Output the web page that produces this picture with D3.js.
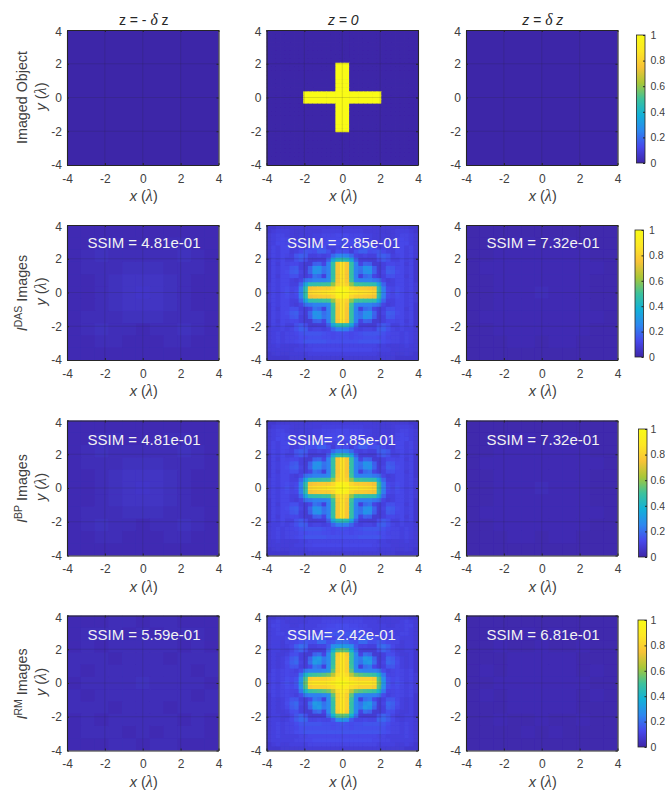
<!DOCTYPE html>
<html>
<head>
<meta charset="utf-8">
<script src="https://cdn.jsdelivr.net/npm/d3@7"></script>
<style>
  html, body { margin: 0; padding: 0; background: #fff; overflow: hidden; }
  svg { display: block; font-family: "Liberation Sans", Arial, sans-serif; }
  .tick text { fill: #404040; font-size: 12px; }
  .colorbar .tick text { font-size: 10.5px; }
  .domain, .tick line { stroke: #262626; }
  .greek { font-family: "Liberation Serif", serif; font-style: italic; font-size: 1.12em; }
</style>
</head>
<body>
<div id="chart"></div>
<script>
// values, in percent of the colour range
const ticks = [-4, -2, 0, 2, 4];
const colorbarTicks = [0, 0.2, 0.4, 0.6, 0.8, 1];
const parula = ['#3e26a8', '#4748eb', '#2d87f0', '#12b1d8', '#3dc29b', '#a8c738', '#f8c337', '#fde725', '#f9fb15'];

const objectRows = [
  '000000000000000000000000000000000',
  '000000000000000000000000000000000',
  '000000000000000000000000000000000',
  '000000000000000000000000000000000',
  '000000000000000000000000000000000',
  '000000000000000000000000000000000',
  '000000000000000000000000000000000',
  '000000000000000000000000000000000',
  '000000000000000111000000000000000',
  '000000000000000111000000000000000',
  '000000000000000111000000000000000',
  '000000000000000111000000000000000',
  '000000000000000111000000000000000',
  '000000000000000111000000000000000',
  '000000000000000111000000000000000',
  '000000001111111111111111100000000',
  '000000001111111111111111100000000',
  '000000001111111111111111100000000',
  '000000000000000111000000000000000',
  '000000000000000111000000000000000',
  '000000000000000111000000000000000',
  '000000000000000111000000000000000',
  '000000000000000111000000000000000',
  '000000000000000111000000000000000',
  '000000000000000111000000000000000',
  '000000000000000000000000000000000',
  '000000000000000000000000000000000',
  '000000000000000000000000000000000',
  '000000000000000000000000000000000',
  '000000000000000000000000000000000',
  '000000000000000000000000000000000',
  '000000000000000000000000000000000',
  '000000000000000000000000000000000'
];

const dasFocus = [
  [7,7,8,8,8,8,8,8,8,8,9,9,9,9,9,9,9,9,9,9,9,9,9,8,8,8,8,8,8,8,8,7,7],
  [7,9,10,10,10,9,8,8,9,9,9,9,10,10,10,10,10,10,10,10,10,9,9,9,9,8,8,9,10,10,10,9,7],
  [8,10,11,11,10,9,8,9,9,9,10,10,11,11,11,12,12,12,11,11,11,10,10,9,9,9,8,9,10,11,11,10,8],
  [8,10,11,12,11,9,9,9,9,9,10,10,11,12,12,12,12,12,12,12,11,10,10,9,9,9,9,9,11,12,11,10,8],
  [8,10,12,12,11,10,11,10,9,9,10,11,12,13,13,13,13,13,13,13,12,11,10,9,9,10,11,10,11,12,12,10,8],
  [8,11,10,12,12,9,9,10,10,12,15,16,14,10,10,11,11,11,10,10,14,16,15,12,10,10,9,9,12,12,10,11,8],
  [8,11,10,12,12,9,10,12,15,14,13,17,17,14,9,13,14,13,9,14,17,17,13,14,15,12,10,9,12,12,10,11,8],
  [8,11,10,12,11,10,15,17,16,10,10,11,10,11,19,24,25,24,19,11,10,11,10,10,16,17,15,10,11,12,10,11,8],
  [7,11,10,12,10,10,14,16,13,8,8,9,9,17,34,44,46,44,34,17,9,9,8,8,13,16,14,10,10,12,10,11,7],
  [7,11,9,12,11,12,12,10,8,8,17,18,11,24,48,76,86,76,48,24,11,18,17,8,8,10,12,12,11,12,9,11,7],
  [7,11,10,12,12,15,16,10,8,17,27,29,21,24,48,76,86,76,48,24,21,29,27,17,8,10,16,15,12,12,10,11,7],
  [7,11,10,12,13,16,17,11,9,18,29,27,20,24,48,76,86,76,48,24,20,27,29,18,9,11,17,16,13,12,10,11,7],
  [7,11,9,12,12,14,14,10,9,11,21,19,10,24,48,76,86,76,48,24,10,19,21,11,9,10,14,14,12,12,9,11,7],
  [7,11,10,12,12,10,9,11,20,22,24,24,24,26,50,77,86,77,50,26,24,24,24,22,20,11,9,10,12,12,10,11,7],
  [8,11,10,12,12,10,10,18,34,46,47,48,49,50,60,80,86,80,60,50,49,48,47,46,34,18,10,10,12,12,10,11,8],
  [8,11,10,12,13,11,12,23,46,74,76,77,78,78,82,92,96,92,82,78,78,77,76,74,46,23,12,11,13,12,10,11,8],
  [8,11,10,12,14,11,13,24,48,82,84,85,86,88,90,96,100,96,90,88,86,85,84,82,48,24,13,11,14,12,10,11,8],
  [8,11,10,12,13,11,12,23,46,74,76,77,78,78,82,92,96,92,82,78,78,77,76,74,46,23,12,11,13,12,10,11,8],
  [8,11,10,12,12,10,10,18,34,46,47,48,49,50,60,80,86,80,60,50,49,48,47,46,34,18,10,10,12,12,10,11,8],
  [7,11,10,12,12,10,9,11,20,22,24,24,24,26,50,77,86,77,50,26,24,24,24,22,20,11,9,10,12,12,10,11,7],
  [7,11,9,12,12,14,14,10,9,11,21,19,10,24,48,76,86,76,48,24,10,19,21,11,9,10,14,14,12,12,9,11,7],
  [7,11,10,12,13,16,17,11,9,18,29,27,20,24,48,76,86,76,48,24,20,27,29,18,9,11,17,16,13,12,10,11,7],
  [7,11,10,12,12,15,16,10,8,17,27,29,21,24,48,76,86,76,48,24,21,29,27,17,8,10,16,15,12,12,10,11,7],
  [7,11,9,12,11,12,12,10,8,8,17,18,11,24,48,76,86,76,48,24,11,18,17,8,8,10,12,12,11,12,9,11,7],
  [7,11,10,12,10,10,14,16,13,8,8,9,9,17,34,44,46,44,34,17,9,9,8,8,13,16,14,10,10,12,10,11,7],
  [8,10,10,11,10,11,14,17,16,10,11,11,10,11,18,23,24,23,18,11,10,11,11,10,16,17,14,11,10,11,10,10,8],
  [8,10,11,10,11,11,12,14,15,15,15,15,14,13,12,13,14,13,12,13,14,15,15,15,15,14,12,11,11,10,11,10,8],
  [8,10,11,10,11,11,11,13,13,14,14,14,13,13,12,13,13,13,12,13,13,14,14,14,13,13,11,11,11,10,11,10,8],
  [8,10,11,10,11,11,12,13,15,15,15,15,15,14,14,14,14,14,14,14,15,15,15,15,15,13,12,11,11,10,11,10,8],
  [8,9,10,9,9,9,9,10,10,11,11,11,11,11,11,11,11,11,11,11,11,11,11,11,10,10,9,9,9,9,10,9,8],
  [8,9,9,9,9,9,10,10,11,11,12,12,12,12,12,12,12,12,12,12,12,12,12,11,11,10,10,9,9,9,9,9,8],
  [7,8,9,8,8,9,9,9,9,10,10,10,10,10,10,10,10,10,10,10,10,10,10,10,9,9,9,9,8,8,9,8,7],
  [7,7,7,7,7,8,8,8,8,8,8,8,8,8,8,8,8,8,8,8,8,8,8,8,8,8,8,8,7,7,7,7,7]
];

const rmFocus = [
  [7,7,8,8,9,9,9,9,9,9,9,9,10,10,10,10,10,10,10,10,10,9,9,9,9,9,9,9,9,8,8,7,7],
  [8,10,11,10,9,9,9,9,9,10,10,10,11,11,11,11,11,11,11,11,11,10,10,10,9,9,9,9,9,10,11,10,8],
  [8,11,11,10,10,9,9,10,10,10,10,11,11,12,12,13,13,13,12,12,11,11,10,10,10,10,9,9,10,10,11,11,8],
  [8,10,11,10,10,10,10,10,10,10,11,11,12,13,13,13,13,13,13,13,12,11,11,10,10,10,10,10,10,10,11,10,8],
  [8,10,11,11,10,11,12,12,10,10,11,12,13,15,15,15,15,15,15,15,13,12,11,10,10,12,12,11,10,11,11,10,8],
  [8,10,10,10,11,10,10,12,12,13,16,17,14,11,12,13,14,13,12,11,14,17,16,13,12,12,10,10,11,10,10,10,8],
  [8,10,10,9,11,11,12,14,16,14,14,19,19,14,15,19,20,19,15,14,19,19,14,14,16,14,12,11,11,9,10,10,8],
  [8,10,10,9,10,12,17,20,18,10,10,11,11,16,27,30,31,30,27,16,11,11,10,10,18,20,17,12,10,9,10,10,8],
  [7,10,10,9,9,11,15,18,14,8,8,8,9,20,38,52,55,52,38,20,9,8,8,8,14,18,15,11,9,9,10,10,7],
  [7,10,9,9,10,13,14,10,8,8,18,20,11,26,48,78,88,78,48,26,11,20,18,8,8,10,14,13,10,9,9,10,7],
  [7,10,9,10,12,16,18,10,8,18,29,31,22,26,48,80,88,80,48,26,22,31,29,18,8,10,18,16,12,10,9,10,7],
  [7,10,9,10,13,17,19,11,9,20,31,29,21,26,48,80,88,80,48,26,21,29,31,20,9,11,19,17,13,10,9,10,7],
  [7,10,9,10,12,15,15,10,9,12,22,20,10,26,50,80,88,80,50,26,10,20,22,12,9,10,15,15,12,10,9,10,7],
  [7,11,10,11,12,11,10,13,22,24,24,24,25,28,54,80,88,80,54,28,25,24,24,24,22,13,10,11,12,11,10,11,7],
  [8,11,10,11,12,11,11,22,40,48,50,51,53,56,66,84,90,84,66,56,53,51,50,48,40,22,11,11,12,11,10,11,8],
  [8,11,10,11,13,12,14,27,52,78,80,80,80,82,84,90,92,90,84,82,80,80,80,78,52,27,14,12,13,11,10,11,8],
  [8,11,10,12,14,12,15,30,55,86,88,88,88,90,92,96,100,96,92,90,88,88,88,86,55,30,15,12,14,12,10,11,8],
  [8,11,10,11,13,12,14,27,52,78,80,80,80,82,84,90,92,90,84,82,80,80,80,78,52,27,14,12,13,11,10,11,8],
  [8,11,10,11,12,11,11,22,40,48,50,51,53,56,66,84,90,84,66,56,53,51,50,48,40,22,11,11,12,11,10,11,8],
  [7,11,10,11,12,11,10,13,22,24,24,24,25,28,54,80,88,80,54,28,25,24,24,24,22,13,10,11,12,11,10,11,7],
  [7,10,9,10,12,15,15,10,9,12,22,20,10,26,50,80,88,80,50,26,10,20,22,12,9,10,15,15,12,10,9,10,7],
  [7,10,9,10,13,17,19,11,9,20,31,29,21,26,48,80,88,80,48,26,21,29,31,20,9,11,19,17,13,10,9,10,7],
  [7,10,9,10,12,16,18,10,8,18,29,31,22,26,48,80,88,80,48,26,22,31,29,18,8,10,18,16,12,10,9,10,7],
  [7,10,9,9,10,13,14,10,8,8,18,20,11,26,48,78,88,78,48,26,11,20,18,8,8,10,14,13,10,9,9,10,7],
  [7,10,10,9,9,11,15,18,14,8,8,8,9,20,38,52,55,52,38,20,9,8,8,8,14,18,15,11,9,9,10,10,7],
  [8,10,10,9,10,12,16,19,18,11,11,12,11,11,16,27,30,27,16,11,11,12,11,11,18,19,16,12,10,9,10,10,8],
  [8,10,11,10,11,11,13,15,15,15,15,15,14,14,13,14,15,14,13,14,14,15,15,15,15,15,13,11,11,10,11,10,8],
  [8,10,11,10,11,11,12,14,14,14,14,14,14,14,13,14,14,14,13,14,14,14,14,14,14,14,12,11,11,10,11,10,8],
  [8,10,11,10,11,11,13,14,15,15,15,15,15,15,15,15,15,15,15,15,15,15,15,15,15,14,13,11,11,10,11,10,8],
  [8,10,11,10,10,10,10,11,11,12,12,12,12,12,12,12,12,12,12,12,12,12,12,12,11,11,10,10,10,10,11,10,8],
  [8,10,10,10,10,10,11,11,12,12,13,13,13,13,13,13,13,13,13,13,13,13,13,12,12,11,11,10,10,10,10,10,8],
  [7,9,10,9,9,10,10,10,10,11,11,11,11,11,11,11,11,11,11,11,11,11,11,11,10,10,10,10,9,9,10,9,7],
  [7,7,7,8,8,8,8,8,9,9,9,9,9,9,9,9,9,9,9,9,9,9,9,9,9,8,8,8,8,8,7,7,7]
];

const dasBefore = [
  [2,2,2,2,2,2,2,2,2,2,2],
  [2,2,3,3,2,2,2,3,3,2,2],
  [2,3,4,3,3,3,3,3,4,3,2],
  [2,3,3,3,4,4,4,3,3,3,2],
  [2,2,3,4,5,5,5,4,3,2,2],
  [2,2,3,4,5,6,5,4,3,2,2],
  [2,2,3,4,5,5,5,4,3,2,2],
  [2,3,3,3,4,4,4,3,3,3,2],
  [2,3,4,3,3,2,3,3,4,3,2],
  [2,2,3,3,2,2,2,3,3,2,2],
  [2,2,2,2,2,2,2,2,2,2,2]
];
const dasAfter = [
  [1,1,1,1,1,1,1,1,1,1,1],
  [1,1,1,2,2,1,2,2,1,1,1],
  [1,1,2,2,2,2,2,2,2,1,1],
  [1,2,2,2,2,2,2,2,2,2,1],
  [1,1,2,2,2,2,2,2,2,1,1],
  [1,1,2,2,2,3,2,2,2,1,1],
  [1,1,2,2,2,2,2,2,2,1,1],
  [1,2,2,2,2,2,2,2,2,2,1],
  [1,1,2,2,2,2,2,2,2,1,1],
  [1,1,1,2,2,1,2,2,1,1,1],
  [1,1,1,1,1,1,1,1,1,1,1]
];
const rmBefore = [
  [2,2,2,3,3,2,3,3,2,2,2],
  [2,3,3,3,2,3,2,3,3,3,2],
  [2,3,2,3,3,3,3,3,2,3,2],
  [3,3,3,2,3,3,3,2,3,3,3],
  [3,2,3,3,3,3,3,3,3,2,3],
  [2,3,3,3,3,4,3,3,3,3,2],
  [3,2,3,3,3,3,3,3,3,2,3],
  [3,3,3,2,3,3,3,2,3,3,3],
  [2,3,2,3,3,3,3,3,2,3,2],
  [2,3,3,3,2,3,2,3,3,3,2],
  [2,2,2,3,3,2,3,3,2,2,2]
];
const rmAfter = [
  [1,1,1,1,1,1,1,1,1,1,1],
  [1,1,1,1,2,1,2,1,1,1,1],
  [1,1,2,1,1,2,1,1,2,1,1],
  [1,1,1,2,2,2,2,2,1,1,1],
  [1,2,1,2,2,2,2,2,1,2,1],
  [1,1,2,2,2,2,2,2,2,1,1],
  [1,2,1,2,2,2,2,2,1,2,1],
  [1,1,1,2,2,2,2,2,1,1,1],
  [1,1,2,1,1,2,1,1,2,1,1],
  [1,1,1,1,2,1,2,1,1,1,1],
  [1,1,1,1,1,1,1,1,1,1,1]
];
const emptyPlane = [[0]];

const panelValues = [
  [emptyPlane, objectRows.map(row => Array.from(row, d => +d * 100)), emptyPlane],
  [dasBefore, dasFocus, dasAfter],
  [dasBefore, dasFocus, dasAfter],
  [rmBefore, rmFocus, rmAfter]
];
const ssimLabels = [
  [null, null, null],
  ['SSIM = 4.81e-01', 'SSIM = 2.85e-01', 'SSIM = 7.32e-01'],
  ['SSIM = 4.81e-01', 'SSIM= 2.85e-01', 'SSIM = 7.32e-01'],
  ['SSIM = 5.59e-01', 'SSIM= 2.42e-01', 'SSIM = 6.81e-01']
];
const rowSuperscripts = [null, 'DAS', 'BP', 'RM'];

// layout
const columnLefts = [67, 266.5, 466];
const axesWidth = 151.5;
const rowTops = [30, 225, 420.5, 615.5];
const axesHeight = 135;
const colorbars = [
  { left: 636.5, top: 35, bottom: 163, padding: 5.5 },
  { left: 635, top: 230, bottom: 357, padding: 5.5 },
  { left: 638.5, top: 429, bottom: 557, padding: 3.5 },
  { left: 638, top: 620, bottom: 747, padding: 4 }
];

const svg = d3.select('#chart').append('svg').attr('width', 665).attr('height', 790);
const defs = svg.append('defs');

defs.append('filter')
  .attr('id', 'soften')
  .attr('x', '-5%').attr('y', '-5%').attr('width', '110%').attr('height', '110%')
  .append('feGaussianBlur')
  .attr('stdDeviation', 0.6);

const gradient = defs.append('linearGradient')
  .attr('id', 'parula')
  .attr('x1', 0).attr('x2', 0).attr('y1', 1).attr('y2', 0);
parula.forEach((color, i) => {
  gradient.append('stop').attr('offset', i / (parula.length - 1)).attr('stop-color', color);
});

const colorScale = d3.scaleLinear()
  .domain(parula.map((d, i) => i / (parula.length - 1)))
  .range(parula)
  .clamp(true);

function drawPanel(row, col) {
  const left = columnLefts[col];
  const top = rowTops[row];
  const values = panelValues[row][col];
  const g = svg.append('g').attr('transform', `translate(${left},${top})`);

  const x = d3.scaleLinear().domain([-4, 4]).range([0, axesWidth]);
  const y = d3.scaleLinear().domain([-4, 4]).range([axesHeight, 0]);
  const xBand = d3.scaleBand().domain(d3.range(values[0].length)).range([0, axesWidth]);
  const yBand = d3.scaleBand().domain(d3.range(values.length)).range([0, axesHeight]);

  const clipId = `clip-${row}-${col}`;
  defs.append('clipPath').attr('id', clipId)
    .append('rect').attr('width', axesWidth).attr('height', axesHeight);

  const image = g.append('g').attr('clip-path', `url(#${clipId})`);
  image.append('rect')
    .attr('width', axesWidth)
    .attr('height', axesHeight)
    .attr('fill', colorScale(values[0][0] / 100));

  image.append('g')
    .attr('filter', 'url(#soften)')
    .selectAll('g')
    .data(values)
    .join('g')
    .attr('transform', (d, i) => `translate(0,${yBand(i)})`)
    .selectAll('rect')
    .data(d => d)
    .join('rect')
    .attr('x', (d, i) => xBand(i))
    .attr('width', xBand.bandwidth() + 0.6)
    .attr('height', yBand.bandwidth() + 0.6)
    .attr('fill', d => colorScale(d / 100));

  // grid lines sit on top of the image, as in the original
  const grid = g.append('g').attr('stroke', '#262626').attr('stroke-opacity', 0.16);
  grid.selectAll('line.v').data([-2, 0, 2]).join('line')
    .attr('class', 'v')
    .attr('x1', d => x(d)).attr('x2', d => x(d))
    .attr('y1', 0).attr('y2', axesHeight);
  grid.selectAll('line.h').data([-2, 0, 2]).join('line')
    .attr('class', 'h')
    .attr('y1', d => y(d)).attr('y2', d => y(d))
    .attr('x1', 0).attr('x2', axesWidth);

  // plain hyphen for negatives, the way the original prints them
  const tickText = d => String(d);
  const bottomAxis = g.append('g')
    .attr('transform', `translate(0,${axesHeight})`)
    .call(d3.axisBottom(x).tickValues(ticks).tickFormat(tickText).tickSizeInner(-2).tickSizeOuter(0).tickPadding(9));
  const leftAxis = g.append('g')
    .call(d3.axisLeft(y).tickValues(ticks).tickFormat(tickText).tickSizeInner(-2).tickSizeOuter(0).tickPadding(5));
  g.append('g')
    .call(d3.axisTop(x).tickValues(ticks).tickFormat('').tickSizeInner(-2).tickSizeOuter(0));
  g.append('g')
    .attr('transform', `translate(${axesWidth},0)`)
    .call(d3.axisRight(y).tickValues(ticks).tickFormat('').tickSizeInner(-2).tickSizeOuter(0));

  bottomAxis.selectAll('text').attr('dy', '0.71em');
  // the top label sits just under the corner
  leftAxis.selectAll('.tick').filter(d => d === 4).select('text').attr('y', 2);

  g.selectAll('.domain').attr('stroke-width', 1.1);

  const xLabel = g.append('text')
    .attr('x', axesWidth / 2 + 1)
    .attr('y', axesHeight + 36)
    .attr('text-anchor', 'middle')
    .attr('font-size', 14.5)
    .attr('fill', '#404040');
  xLabel.append('tspan').attr('font-style', 'italic').text('x');
  xLabel.append('tspan').text(' (');
  xLabel.append('tspan').attr('class', 'greek').text('λ');
  xLabel.append('tspan').text(')');

  if (col === 0) {
    const yLabel = g.append('text')
      .attr('transform', `translate(-21,${axesHeight / 2 - 1}) rotate(-90)`)
      .attr('text-anchor', 'middle')
      .attr('font-size', 14.5)
      .attr('fill', '#404040');
    yLabel.append('tspan').attr('font-style', 'italic').text('y');
    yLabel.append('tspan').text(' (');
    yLabel.append('tspan').attr('class', 'greek').text('λ');
    yLabel.append('tspan').text(')');
  }

  if (ssimLabels[row][col]) {
    g.append('text')
      .attr('x', 20.5)
      .attr('y', row === 1 ? 23 : 24)
      .attr('font-size', 15)
      .attr('fill', '#f2f2f2')
      .text(ssimLabels[row][col]);
  }
}

function drawRowLabel(row) {
  const label = svg.append('text')
    .attr('transform', `translate(27,${rowTops[row] + axesHeight / 2 + (row === 0 ? 0 : row === 3 ? 1 : 0.5)}) rotate(-90)`)
    .attr('text-anchor', 'middle')
    .attr('font-size', 14.3)
    .attr('fill', '#404040');
  if (row === 0) {
    label.text('Imaged Object');
    return;
  }
  label.append('tspan').attr('font-style', 'italic').text('I');
  label.append('tspan').attr('font-size', 10.5).attr('dy', -5.5).text(rowSuperscripts[row]);
  label.append('tspan').attr('dy', 5.5).text(' Images');
}

function drawColorbar(row) {
  const bar = colorbars[row];
  const scale = d3.scaleLinear().domain([0, 1]).range([bar.bottom, bar.top]);
  const g = svg.append('g').attr('class', 'colorbar').attr('transform', `translate(${bar.left},0)`);
  g.append('rect')
    .attr('y', bar.top)
    .attr('width', 8.5)
    .attr('height', bar.bottom - bar.top)
    .attr('fill', 'url(#parula)')
    .attr('stroke', '#262626')
    .attr('stroke-width', 0.8);
  g.append('g')
    .attr('transform', 'translate(8.5,0)')
    .call(d3.axisRight(scale).tickValues(colorbarTicks).tickFormat(d3.format('')).tickSizeInner(-2).tickSizeOuter(0).tickPadding(bar.padding))
    .call(a => a.select('.domain').remove());
}

function drawTitles() {
  const titles = [
    [['z = - ', null], ['δ', 'greek'], [' z', null]],
    [['z = 0', null]],
    [['z = ', null], ['δ', 'greek'], [' z', null]]
  ];
  titles.forEach((parts, col) => {
    const title = svg.append('text')
      .attr('x', columnLefts[col] + axesWidth / 2 + 1)
      .attr('y', 25)
      .attr('text-anchor', 'middle')
      .attr('font-size', 14)
      .attr('font-style', col === 0 ? 'normal' : 'italic')
      .attr('fill', '#262626');
    parts.forEach(([text, cls]) => title.append('tspan').attr('class', cls).text(text));
  });
}

rowTops.forEach((top, row) => {
  columnLefts.forEach((left, col) => drawPanel(row, col));
  drawRowLabel(row);
  drawColorbar(row);
});
drawTitles();
</script>
</body>
</html>
